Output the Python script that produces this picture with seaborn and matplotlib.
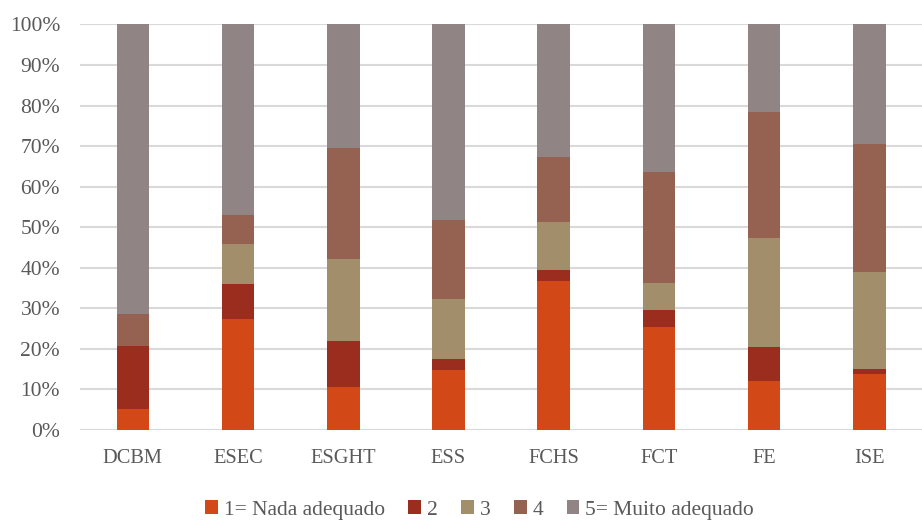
import matplotlib
matplotlib.use("Agg")
import matplotlib.pyplot as plt
from matplotlib.patches import Patch
from matplotlib.ticker import PercentFormatter
import numpy as np
import pandas as pd
import seaborn as sns

categories = ["DCBM", "ESEC", "ESGHT", "ESS", "FCHS", "FCT", "FE", "ISE"]
series_names = ["1= Nada adequado", "2", "3", "4", "5= Muito adequado"]
s1 = [5.2, 27.5, 10.6, 14.7, 36.7, 25.5, 12.1, 13.7]
s2 = [15.6, 8.5, 11.4, 2.7, 2.8, 4.1, 8.4, 1.4]
s3 = [0.0, 9.8, 20.2, 14.9, 11.7, 6.6, 26.8, 23.8]
s4 = [7.9, 7.1, 27.4, 19.5, 16.0, 27.5, 31.0, 31.7]
s5 = [71.3, 47.1, 30.4, 48.2, 32.8, 36.3, 21.7, 29.4]
colors = ["#D34817", "#9B2D1F", "#A28E6A", "#956251", "#918485"]

sns.set_theme(style="white")
plt.rcParams["font.family"] = ["Liberation Serif", "DejaVu Serif"]
text_color = "#595959"

fig = plt.figure(figsize=(9.22, 5.2), dpi=100)
ax = fig.add_axes([0.087, 0.173, 0.913, 0.780])

values = [s1, s2, s3, s4, s5]
bottom = np.zeros(len(categories))
for name, vals, col in zip(series_names, values, colors):
    df = pd.DataFrame({"cat": categories, "val": vals})
    sns.barplot(data=df, x="cat", y="val", color=col, width=0.31,
                bottom=bottom, ax=ax, saturation=1, linewidth=0)
    bottom = bottom + np.array(vals)

ax.set_ylim(0, 100)
ax.set_xlim(-0.5, len(categories) - 0.5)
ax.set_yticks(np.arange(0, 101, 10))
ax.yaxis.set_major_formatter(PercentFormatter(decimals=0))
ax.yaxis.grid(True, color="#D9D9D9", linewidth=1.5)
ax.set_axisbelow(True)
for sp in ax.spines.values():
    sp.set_visible(False)
ax.set_xlabel("")
ax.set_ylabel("")
ax.tick_params(axis="both", length=0, colors=text_color)
ax.tick_params(axis="x", labelsize=14.7, pad=14)
ax.tick_params(axis="y", labelsize=15.5, pad=14.5)

handles = [Patch(facecolor=c, edgecolor="none") for c in colors]
fig.legend(handles, series_names, loc="center", bbox_to_anchor=(0.52, 0.019),
           ncol=5, frameon=False, fontsize=15.5, labelcolor=text_color,
           handlelength=0.6, handleheight=0.6, handletextpad=0.25,
           columnspacing=1.1)

fig.savefig("out.png", dpi=100, facecolor="white")
